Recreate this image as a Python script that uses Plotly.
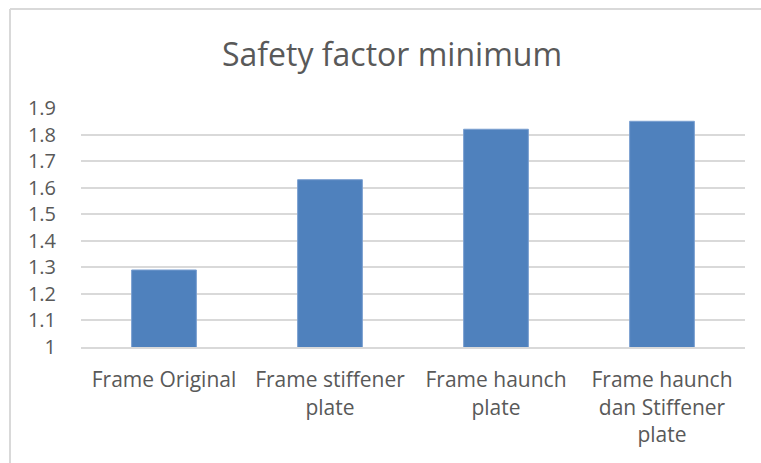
import plotly.graph_objects as go

# Minimum safety factor for each frame configuration
categories = [
    "Frame Original",
    "Frame stiffener<br>plate",
    "Frame haunch<br>plate",
    "Frame haunch<br>dan Stiffener<br>plate",
]
safety_factor = [1.29, 1.63, 1.82, 1.85]
y_ticks = [1.0, 1.1, 1.2, 1.3, 1.4, 1.5, 1.6, 1.7, 1.8, 1.9]
y_tick_labels = ["1", "1.1", "1.2", "1.3", "1.4", "1.5", "1.6", "1.7", "1.8", "1.9"]

W, H = 761, 463
ML, MR, MT, MB = 81, 16, 108, 116

fig = go.Figure(
    go.Bar(
        x=categories,
        y=safety_factor,
        marker=dict(color="#4F81BD", line=dict(color="#7A9FD0", width=1)),
    )
)

font_family = "'Open Sans', Lato, sans-serif"

fig.update_layout(
    width=W,
    height=H,
    margin=dict(l=ML, r=MR, t=MT, b=MB),
    paper_bgcolor="white",
    plot_bgcolor="white",
    bargap=0.61,
    showlegend=False,
    title=dict(
        text="Safety factor minimum",
        font=dict(family=font_family, size=32, color="#595959"),
        xref="container",
        yref="container",
        x=392 / W,
        y=1 - 55 / H,
        xanchor="center",
        yanchor="middle",
    ),
    font=dict(family=font_family, color="#595959"),
)

fig.update_xaxes(
    showgrid=False,
    showline=True,
    linecolor="#D9D9D9",
    linewidth=2,
    ticks="",
    tickfont=dict(size=21, color="#595959"),
    ticklabelstandoff=13,
)
fig.update_yaxes(
    range=[1.0, 1.9],
    tickvals=y_ticks,
    ticktext=y_tick_labels,
    showgrid=True,
    gridcolor="#D9D9D9",
    gridwidth=2,
    zeroline=False,
    showline=False,
    ticks="",
    tickfont=dict(size=20, color="#595959"),
    ticklabelstandoff=24,
)

# chart frame (top and left edges visible within the window)
pw = W - ML - MR
ph = H - MT - MB
fx0 = (10 - ML) / pw
fy1 = 1 + (MT - 9) / ph
fig.add_shape(
    type="line", xref="paper", yref="paper",
    x0=fx0, x1=2, y0=fy1, y1=fy1,
    line=dict(color="#D9D9D9", width=2), layer="below",
)
fig.add_shape(
    type="line", xref="paper", yref="paper",
    x0=fx0, x1=fx0, y0=-2, y1=fy1,
    line=dict(color="#D9D9D9", width=2), layer="below",
)

fig.write_html("out.html")
